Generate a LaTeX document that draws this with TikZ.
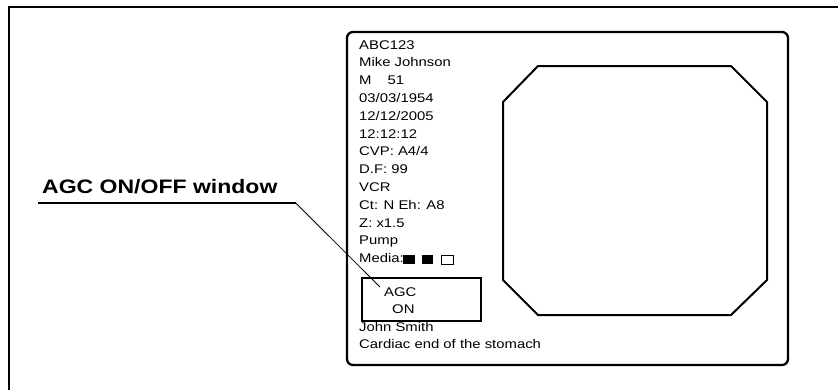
\documentclass[tikz,border=0pt]{standalone}
\usepackage{fontspec}
\setmainfont[FakeStretch=1.18]{Liberation Sans}
\begin{document}
\begin{tikzpicture}[x=1pt,y=-1pt,
  txt/.style={anchor=base west,inner sep=0pt,font=\fontsize{12.6}{15}\selectfont},
  ttl/.style={anchor=base west,inner sep=0pt,font=\fontsize{19.5}{22}\selectfont\bfseries},
  frame/.style={line width=2pt},
  monitor/.style={line width=2.3pt,rounded corners=6pt},
  octo/.style={line width=2pt,line join=miter},
  agcbox/.style={line width=2pt},
  leader/.style={line width=0.8pt}]
\useasboundingbox (0,0) rectangle (838,389);
% outer frame (open to the right and bottom)
\draw[frame] (9,392) -- (9,7) -- (842,7);
% monitor frame
\draw[monitor] (347,32) rectangle (788,365);
% octagonal image area
\draw[octo] (538,66) -- (731,66) -- (767,102) -- (767,280) -- (731,315)
  -- (538,315) -- (503,280) -- (503,102) -- cycle;
% text lines
\node[txt] (l1) at (359,49.0) {ABC123};
\node[txt] (l2) at (359,66.8) {Mike Johnson};
\node[txt] (l3) at (359,84.6) {M\hspace{16pt}51};
\node[txt] (l4) at (359,102.4) {03/03/1954};
\node[txt] (l5) at (359,120.2) {12/12/2005};
\node[txt] (l6) at (359,138.0) {12:12:12};
\node[txt] (l7) at (359,155.8) {CVP: A4/4};
\node[txt] (l8) at (359,173.6) {D.F: 99};
\node[txt] (l9) at (359,191.4) {VCR};
\node[txt] (l10) at (359,209.2) {Ct: N Eh: A8};
\node[txt] (l11) at (359,227.0) {Z: x1.5};
\node[txt] (l12) at (359,244.8) {Pump};
\node[txt] (l13) at (359,262.6) {Media:};
\fill (403,255) rectangle (415,264);
\fill (422,255) rectangle (433,264);
\draw[line width=0.8pt] (441.5,255.5) rectangle (453,264);
% AGC window
\draw[agcbox] (362,278) rectangle (481,321);
\node[txt] (agc) at (384,296.7) {AGC};
\node[txt] (on) at (392,313.2) {ON};
\node[txt] (l14) at (359,331.0) {John Smith};
\node[txt] (l15) at (359,348.5) {Cardiac end of the stomach};
% callout
\node[ttl] (title) at (42,193.3) {AGC ON/OFF window};
\coordinate (ul0) at (38,203.3);
\coordinate (ul1) at (296,203.3);
\coordinate (tip) at (380,287);
\draw[line width=2pt] (ul0) -- (ul1);
\draw[leader] (ul1) -- (tip);
\end{tikzpicture}
\end{document}
